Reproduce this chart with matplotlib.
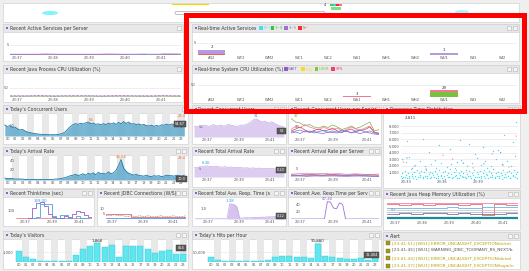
import numpy as np
import matplotlib
matplotlib.use("Agg")
import matplotlib.pyplot as plt
from matplotlib.patches import Rectangle, FancyBboxPatch, Ellipse

W, H = 529, 271
plt.rcParams['font.family'] = ['DejaVu Sans']

# ----------------------------- data -----------------------------
hour_labels = ["00", "01", "02", "03", "04", "05", "06", "07", "08", "09", "10", "11",
               "12", "13", "14", "15", "16", "17", "18", "19", "20", "21", "22", "23"]
server_names = ["A42", "WT2", "WM2", "WC1", "WC2", "WS1", "WH1", "WH2", "WU1", "WI1", "WI2"]
ticks5 = ["23:37", "23:38", "23:39", "23:40", "23:41"]
ticks3 = ["23:37", "23:39", "23:41"]
scatter_ticks = ["23:33", "23:36", "23:39"]

# real-time active services (stacked by elapsed bucket)
active_0_1 = [0, 0, 0, 0, 0, 0, 0, 0, 0, 0, 0]
active_1_3 = [0, 0, 0, 0, 0, 0, 0, 0, 0, 0, 0]
active_3_5 = [1.4, 0, 0, 0, 0, 0, 0, 0, 1, 0, 0]
active_5 = [0.6, 0, 0, 0, 0, 0, 0, 0, 0, 0, 0]
active_total = [2, 0, 0, 0, 0, 0, 0, 0, 1, 0, 0]

# real-time system cpu (stacked)
cpu_wait = [0, 0, 0, 0, 0, 0, 0, 0, 0, 0, 0]
cpu_irq = [0, 0, 0, 0, 0, 0, 0, 0, 0, 0, 0]
cpu_user = [0, 0, 0, 0, 0, 0, 0, 0, 22, 0, 0]
cpu_sys = [0, 0, 0, 0, 0, 3, 0, 0, 7, 0, 0]
cpu_total = [0, 0, 0, 0, 0, 3, 0, 0, 29, 0, 0]

# recent active services per server
act_srv_magenta = [0.3, 0.3, 0.3, 0.3, 0.4, 0.3, 0.3, 0.3, 0.3, 0.3, 0.3, 0.4, 0.3, 0.3, 0.3, 0.3, 0.3, 0.3, 0.3, 0.3]
act_srv_blue = [0, 0, 0, 0, 0, 0, 0, 0, 0, 0, 0, 0, 0, 0, 0.3, 0.4, 0, 0, 0, 0]
act_srv_gray = [0, 0, 0, 0, 0, 0, 0, 0, 0, 0, 0, 0, 0, 0, 0, 0, 0, 0.5, 0.5, 0.4]

# recent java process cpu
jcpu_pink = [6, 7, 6, 8, 7, 6, 7, 8, 6, 7, 6, 7, 8, 7, 6, 7, 6, 8, 7, 6]
jcpu_cyan = [4, 5, 4, 4, 5, 4, 5, 4, 4, 5, 4, 4, 5, 4, 5, 4, 4, 5, 4, 4]
jcpu_yellow = [3, 3, 4, 3, 3, 4, 3, 3, 4, 3, 3, 3, 4, 3, 3, 4, 3, 3, 3, 4]
jcpu_purple = [5, 4, 5, 6, 5, 4, 5, 5, 6, 5, 4, 5, 5, 6, 5, 4, 5, 6, 5, 5]

# today's concurrent users (every 20 min)
concurrent_users = [55, 48, 52, 42, 45, 36, 30, 33, 25, 20, 17, 14, 12, 10, 9, 8, 7, 7,
                    6, 7, 6, 8, 10, 14, 22, 35, 48, 57, 62, 58, 64, 60, 66, 70, 62, 65,
                    58, 61, 56, 62, 57, 64, 60, 66, 58, 68, 61, 72, 63, 70, 60, 62, 57, 60,
                    55, 58, 52, 50, 54, 48, 53, 49, 56, 54, 59, 55, 60, 57, 62, 58, 42, 60]

# today's arrival rate (every 20 min)
arrival_rate = [4, 3, 3, 3, 2, 2, 2, 2, 1, 1, 1, 1, 1, 1, 1, 1, 1, 1, 1, 1, 2, 2, 3, 4,
                5, 7, 9, 10, 12, 9, 11, 13, 10, 14, 12, 15, 11, 16, 13, 14, 12, 17, 13, 15, 20,
                30, 42.56, 25, 18, 14, 12, 10, 12, 9, 9, 8, 10, 8, 7, 9, 8, 9, 7, 8, 10, 9,
                9, 8, 10, 9, 8, 10]

# recent concurrent users (purple area)
recent_users = [52, 55, 50, 58, 54, 60, 56, 53, 57, 62, 58, 55, 60, 57, 54, 58, 63, 60, 57, 55,
                52, 56, 60, 58, 62, 66, 72, 80, 88, 91, 85, 78, 75, 80, 74, 70, 76, 72, 66, 60,
                56, 54, 52]

# recent concurrent users per server
srv_green = [37, 30, 28, 22, 25, 20, 18, 22, 19, 24, 20, 15, 18, 22, 17, 20, 25, 30, 12, 15]
srv_pink = [15, 22, 18, 25, 20, 17, 14, 20, 16, 14, 18, 12, 15, 20, 16, 14, 18, 22, 10, 8]
srv_blue = [10, 12, 14, 10, 12, 8, 11, 13, 9, 12, 10, 14, 11, 9, 12, 14, 10, 12, 8, 6]
srv_purple = [8, 10, 7, 12, 9, 11, 8, 7, 10, 9, 8, 10, 12, 8, 9, 7, 10, 8, 6, 5]
srv_red = [12, 16, 20, 14, 10, 13, 16, 12, 14, 18, 12, 9, 13, 16, 11, 13, 15, 20, 9, 7]

# response-time scatter (minutes since 23:32:30, ms)
sc_low_x = [0.1, 0.2, 0.3, 0.4, 0.5, 0.6, 0.7, 0.8, 0.9, 1.0, 1.1, 1.2, 1.3, 1.4, 1.5, 1.6, 1.7, 1.8, 1.9, 2.0,
            2.1, 2.2, 2.3, 2.4, 2.5, 2.6, 2.7, 2.8, 2.9, 3.0, 3.1, 3.2, 3.3, 3.4, 3.5, 3.6, 3.7, 3.8, 3.9, 4.0,
            4.1, 4.2, 4.3, 4.4, 4.5, 4.6, 4.7, 4.8, 4.9, 5.0, 5.1, 5.2, 5.3, 5.4, 5.5, 5.6, 5.7, 5.8, 5.9, 6.0,
            6.1, 6.2, 6.3, 6.4, 6.5, 6.6, 6.7, 6.8, 6.9, 7.0, 7.1, 7.2, 7.3, 7.4, 7.5, 7.6, 7.7, 7.8, 7.9, 8.0,
            8.1, 8.2, 8.3, 8.4, 8.5, 8.6, 8.7, 8.8, 8.9, 9.0, 9.1, 9.2, 9.3, 9.4, 9.5, 9.6, 9.7, 9.8,
            0.15, 0.45, 0.75, 1.05, 1.35, 1.65, 1.95, 2.25, 2.55, 2.85, 3.15, 3.45, 3.75, 4.05, 4.35, 4.65,
            4.95, 5.25, 5.55, 5.85, 6.15, 6.45, 6.75, 7.05, 7.35, 7.65, 7.95, 8.25, 8.55, 8.85, 9.15, 9.45, 9.75]
sc_low_y = [420, 880, 260, 1250, 610, 150, 940, 380, 1480, 720, 210, 1050, 530, 1320, 300, 860, 640, 1180, 240, 990,
            470, 1400, 180, 760, 1100, 350, 920, 560, 1270, 200, 810, 450, 1350, 670, 130, 1020, 390, 1200, 580, 900,
            280, 1450, 700, 330, 1080, 520, 1300, 170, 840, 620, 1150, 400, 960, 250, 1380, 740, 480, 1230, 190, 870,
            590, 1420, 320, 1010, 690, 230, 1160, 440, 900, 1330, 160, 780, 550, 1260, 360, 980, 630, 1470, 270, 850,
            500, 1120, 210, 930, 680, 1360, 340, 790, 1060, 460, 1240, 180, 950, 600, 1410, 300, 820, 1090,
            90, 310, 120, 480, 60, 270, 140, 520, 80, 330, 110, 460, 70, 290, 150, 540,
            95, 360, 130, 410, 75, 300, 160, 500, 85, 240, 120, 430, 65, 350, 140, 470, 100]
sc_mid_x = [0.2, 0.5, 0.8, 1.3, 1.7, 2.1, 2.6, 3.0, 3.4, 3.9, 4.3, 4.8, 5.1, 5.6, 6.0, 6.4, 6.8, 7.1,
            7.6, 8.0, 8.5, 8.9, 9.3, 9.6, 1.0, 4.6, 7.3, 2.9]
sc_mid_y = [3100, 2600, 3300, 2100, 2700, 1900, 2300, 1700, 2500, 1800, 2200, 2600, 2900, 2000, 2400, 3200,
            2100, 2800, 1900, 3000, 2300, 2700, 2000, 3500, 1600, 1700, 1650, 2900]
sc_high_x = [0.6, 1.9, 3.3, 4.2, 5.0, 5.8, 6.9, 7.8, 8.7, 9.4, 9.7, 2.4, 6.3, 8.2]
sc_high_y = [5800, 6100, 5100, 4600, 5900, 5300, 4800, 4200, 6600, 5600, 8600, 4100, 3800, 4400]
sc_other_x = [0.3, 0.6, 1.2, 3.6, 5.3, 6.1, 7.0, 7.7, 8.4, 8.6, 9.1, 9.7, 2.2, 4.4]
sc_other_y = [2600, 3200, 1900, 3600, 2400, 1700, 2300, 3800, 4000, 2100, 1800, 6500, 1500, 3000]
sc_other_c = ["#f4a27a", "#6fa0e0", "#f4a27a", "#f090c0", "#6fa0e0", "#f4a27a", "#6fa0e0",
              "#f090c0", "#6fa0e0", "#a0a0d0", "#f4a27a", "#f4a27a", "#6fa0e0", "#f090c0"]

# recent total arrival rate
total_arrival = [5.2, 5.5, 5.8, 6.0, 6.36, 6.1, 5.9, 6.2, 5.8, 5.6, 5.9, 5.5, 5.7, 5.3, 5.6, 5.4, 5.1, 5.3,
                 5.0, 5.2, 4.9, 5.1, 4.8, 5.0, 4.7, 4.9, 4.6, 4.8, 5.0, 5.2]
# recent arrival rate per server
arr_pink = [1.6, 1.9, 2.2, 1.8, 2.0, 1.7, 1.9, 1.5, 1.8, 1.6, 1.4, 1.7]
arr_red = [1.2, 1.0, 1.4, 1.3, 1.1, 1.5, 1.2, 1.0, 1.3, 1.1, 1.2, 1.0]
arr_blue = [0.8, 0.9, 0.7, 1.0, 0.8, 0.6, 0.9, 0.8, 0.7, 0.9, 0.6, 0.5]
arr_purple = [0.5, 0.6, 0.4, 0.6, 0.5, 0.7, 0.5, 0.4, 0.6, 0.5, 0.4, 0.3]

# recent thinktime
think_purple = [5, 5, 5, 10, 120, 180, 190, 150, 60, 20, 10, 15, 30, 20, 60, 90, 80, 40, 20, 60]
think_blue = [3, 3, 4, 5, 10, 20, 169, 169, 169, 30, 10, 40, 40, 10, 5, 30, 10, 8, 5, 5]
think_pink = [8, 8, 10, 9, 8, 10, 12, 10, 9, 8, 10, 9, 8, 10, 9, 8, 10, 9, 8, 8]

# recent jdbc connections
jdbc_pink = [5, 5, 5, 5, 5, 5, 2, 2, 2, 2, 2, 2, 2, 2, 2, 2, 2, 2, 2, 2]
jdbc_green = [3, 3, 4, 3, 3, 2, 3, 2, 3, 2, 3, 2, 2, 3, 2, 2, 3, 2, 2, 3]
jdbc_blue = [1, 1, 1, 1, 1, 1, 1, 1, 1, 1, 1, 1, 1, 1, 1, 1, 1, 1, 1, 1]

# recent total avg response time
total_resp = [0.02, 0.02, 0.02, 0.02, 0.02, 0.02, 0.02, 0.02, 0.02, 0.02, 0.02, 0.02, 0.02, 0.02,
              1.38, 1.35, 1.30, 1.10, 0.10, 0.08, 0.10, 0.12, 0.10, 0.12, 0.14, 0.13, 0.15, 0.17,
              0.16, 0.18, 0.20, 0.19, 0.21, 0.22, 0.20, 0.23, 0.22]
# recent avg response time per server
resp_purple = [0, 0, 0, 0, 0, 0, 0, 0, 0, 0, 0, 0, 47.4, 46, 30, 28, 44, 40, 0, 0, 0, 0, 0, 0, 0, 0, 0, 0, 0, 0]
resp_blue = [1, 1, 1, 1, 1, 1, 1, 1, 1, 1, 1, 1, 1, 1, 1, 1, 1, 1, 1, 1, 1, 1, 1, 1, 1, 1, 1, 1, 1, 1]
resp_green = [0.5, 0.5, 0.5, 0.5, 0.5, 0.5, 0.5, 0.5, 0.5, 0.5, 0.5, 0.5, 0.5, 0.5, 0.5, 0.5, 0.5, 0.5, 0.5, 0.5,
              0.5, 0.5, 0.5, 0.5, 0.5, 0.5, 0.5, 0.5, 0.5, 0.5]

# heap memory utilization
heap_pink = [80, 81, 80, 82, 81, 80, 82, 81, 80, 81, 82, 81]
heap_red = [74, 73, 74, 73, 75, 74, 73, 74, 25, 74, 73, 74]
heap_cyan = [55, 56, 58, 57, 59, 60, 58, 57, 60, 61, 60, 62]
heap_gray = [47, 48, 47, 49, 48, 47, 48, 49, 48, 47, 48, 47]
heap_lav = [38, 37, 39, 40, 38, 37, 36, 38, 37, 39, 38, 37]
heap_dark = [30, 31, 30, 32, 31, 30, 31, 30, 29, 30, 31, 30]
heap_teal = [8, 8, 8, 8, 8, 8, 8, 8, 8, 8, 8, 8]

# today's visitors / hits per hour
visitors = [1100, 500, 300, 100, 80, 80, 90, 150, 700, 1300, 1600, 1868, 1500, 1700, 500, 1600,
            1600, 1600, 1300, 900, 1100, 1200, 850, 814]
hits = [25000, 10000, 5000, 4000, 4000, 4000, 4000, 5000, 8000, 25000, 30000, 30000, 25000, 25000,
        20000, 90880, 30000, 25000, 20000, 15000, 15000, 20000, 11404, 25000]

alerts = ["[23:41:51] [WG1] ERROR_UNCAUGHT_EXCEPTION/ticket",
          "[23:41:45] [WU1] WARNING_JDBC_TOOMANY_RS_NEXT/b",
          "[23:41:44] [WU1] ERROR_UNCAUGHT_EXCEPTION/detail",
          "[23:41:37] [WU1] ERROR_UNCAUGHT_EXCEPTION/login/n"]
alert_colors = ["#b5a100", "#555555", "#b5a100", "#b5a100"]

# ----------------------------- figure -----------------------------
fig = plt.figure(figsize=(W / 100, H / 100), dpi=100)
fig.patch.set_facecolor('#efefef')
bg = fig.add_axes([0, 0, 1, 1])
bg.set_xlim(0, W); bg.set_ylim(H, 0); bg.axis('off')

TFS = 3.3
LFS = 2.7


def panel(x0, y0, x1, y1, title=None, icons=2):
    bg.add_patch(Rectangle((x0, y0), x1 - x0, y1 - y0, fc='white', ec='#d2d2d2', lw=0.5))
    if title is not None:
        bg.add_patch(Rectangle((x0, y0), x1 - x0, 8, fc='#e8e8e8', ec='#d2d2d2', lw=0.5))
        bg.add_patch(Rectangle((x0 + 3, y0 + 3.2), 1.8, 1.8, fc='#8a62c9', ec='none'))
        bg.text(x0 + 6.5, y0 + 4.4, title, fontsize=TFS, va='center', ha='left', color='#3a3a3a')
        for k in range(icons):
            bg.add_patch(Rectangle((x1 - 6.5 - 6 * k, y0 + 1.8), 4.5, 4.5, fc='#f6f6f6', ec='#b5b5b5', lw=0.4))


def inner(x0, y0, x1, y1):
    ax = fig.add_axes([x0 / W, 1 - y1 / H, (x1 - x0) / W, (y1 - y0) / H])
    ax.set_facecolor('none')
    for s in ax.spines.values():
        s.set_visible(False)
    ax.tick_params(length=0, labelsize=LFS, colors='#555555', pad=1)
    return ax


def hour_axis(ax, bands=True):
    ax.set_xlim(-0.5, 23.5)
    ax.set_xticks(range(24))
    ax.set_xticklabels(hour_labels)
    ax.tick_params(axis='x', labelsize=2.5, pad=1)
    if bands:
        for h in range(1, 24, 2):
            ax.axvspan(h - 0.5, h + 0.5, color='#e8e8e8', lw=0, zorder=0)


def grid(ax):
    ax.grid(axis='y', color='#e3e3e3', lw=0.4)
    ax.set_axisbelow(True)


# top strip
panel(3, 3, 519, 22, None)
bg.add_patch(Ellipse((50, 13), 16, 4, fc='#60f0ff', ec='none', alpha=0.8))
bg.add_patch(Ellipse((462, 12), 14, 4, fc='#80f0ff', ec='none', alpha=0.7))
bg.plot([172, 208], [4.3, 4.3], color='#f0dc00', lw=0.8)
bg.add_patch(FancyBboxPatch((175, 11.5), 150, 3, boxstyle='round,pad=0,rounding_size=1.5',
                            fc='white', ec='#a8a8a8', lw=0.5))
bg.text(325, 5.5, '4', fontsize=2.6, color='#333', ha='center', va='center')
for i, c in enumerate(['#40d040', '#40d0e0', '#f03030', '#f070a0']):
    bg.add_patch(Rectangle((330 + 3 * i, 3.5), 2.5, 2, fc=c, ec='none'))
bg.add_patch(Rectangle((331, 6.5), 10, 3, fc='#80e080', ec='none'))

# ---- row 1 left: active services per server
panel(3, 24, 183, 61, "Recent Active Services per Server", icons=1)
ax = inner(10, 33, 181, 55)
tx = np.linspace(-0.19, 4.56, 20)
ax.plot(tx, act_srv_magenta, color='#d040c0', lw=0.8)
ax.plot(tx, act_srv_blue, color='#60b0f0', lw=0.6)
ax.plot(tx, act_srv_gray, color='#a0a0a0', lw=0.6)
ax.set_xlim(-0.19, 4.56); ax.set_ylim(0, 11)
ax.set_xticks(range(5)); ax.set_xticklabels(ticks5)
ax.set_yticks([5]); grid(ax)

# ---- row 2 left: java cpu
panel(3, 65, 183, 102, "Recent Java Process CPU Utilization (%)", icons=1)
ax = inner(10, 74, 181, 97)
ax.plot(tx, jcpu_pink, color='#f080b0', lw=0.7, ls=(0, (2, 2)))
ax.plot(tx, jcpu_cyan, color='#40c8e0', lw=0.7, ls=(1, (2, 2)))
ax.plot(tx, jcpu_yellow, color='#e0d040', lw=0.7, ls=(2, (2, 2)))
ax.plot(tx, jcpu_purple, color='#a070d0', lw=0.7, ls=(3, (2, 2)))
ax.set_xlim(-0.19, 4.56); ax.set_ylim(0, 122)
ax.set_xticks(range(5)); ax.set_xticklabels(ticks5)
ax.set_yticks([50]); grid(ax)

# ---- row 1 right: real-time active services
panel(192, 24, 519, 61, "Real-time Active Services")
leg1 = [(259, '#40e0f0', '0~1'), (270.5, '#40c040', '1~3'), (284, '#a070d0', '3~5'), (298, '#f03030', '5~')]
for x, c, t in leg1:
    bg.add_patch(Rectangle((x, 26), 3.6, 3.6, fc=c, ec='none'))
    bg.text(x + 4.3, 28.1, t, fontsize=2.8, color=c, va='center')
ax = inner(197, 31, 517, 55)
xs = np.arange(len(server_names))
b = np.zeros(len(server_names))
for vals, c in [(active_5, '#f06060'), (active_3_5, '#b39ae0'), (active_1_3, '#60c860'), (active_0_1, '#60e0f0')]:
    ax.bar(xs, vals, bottom=b, width=0.95, color=c, lw=0)
    b = b + np.array(vals)
for i, v in enumerate(active_total):
    if v:
        ax.text(i, v + 0.3, str(v), fontsize=2.8, ha='center', va='bottom', color='#333')
ax.set_xlim(-0.5, 10.5); ax.set_ylim(0, 10)
ax.set_xticks(xs); ax.set_xticklabels(server_names)
ax.set_yticks([5]); grid(ax)

# ---- row 2 right: real-time system cpu
panel(192, 65, 519, 103, "Real-time System CPU Utilization (%)")
leg2 = [(284, '#8a60c8', 'WAIT'), (301, '#f0e020', 'IRQ'), (314.5, '#80c830', 'USER'), (331, '#f04070', 'SYS')]
for x, c, t in leg2:
    bg.add_patch(Rectangle((x, 67), 3.6, 3.6, fc=c, ec='none'))
    bg.text(x + 4.3, 69.1, t, fontsize=2.8, color=c, va='center')
ax = inner(197, 73, 517, 97)
b = np.zeros(len(server_names))
for vals, c in [(cpu_user, '#78c040'), (cpu_sys, '#f07890'), (cpu_irq, '#f0e020'), (cpu_wait, '#8a60c8')]:
    ax.bar(xs, vals, bottom=b, width=0.95, color=c, lw=0)
    b = b + np.array(vals)
for i, v in enumerate(cpu_total):
    if v:
        ax.text(i, v + 2, str(v), fontsize=2.8, ha='center', va='bottom', color='#333')
ax.set_xlim(-0.5, 10.5); ax.set_ylim(0, 100)
ax.set_xticks(xs); ax.set_xticklabels(server_names)
ax.set_yticks([50]); grid(ax)

# ---- row 3: today's concurrent users
panel(3, 105, 188, 144, "Today's Concurrent Users", icons=1)
ax = inner(4, 113, 185, 136)
hour_axis(ax)
hx = np.linspace(-0.4, 23.4, len(concurrent_users))
ax.fill_between(hx, concurrent_users, color='#6aaecf', lw=0, alpha=0.9)
ax.plot(hx, concurrent_users, color='#1f78a8', lw=0.6)
ax.set_ylim(0, 115); ax.set_yticks([])
ax.text(0.3, 50, '50', fontsize=LFS, color='#555', va='center')
ax.text(11, 72, '66', fontsize=2.8, color='#f07030', ha='center', va='bottom')

# recent concurrent users (purple)
panel(192, 105, 286, 144, "Recent Concurrent Users")
ax = inner(194, 113, 284, 137)
rx = np.linspace(-0.83, 4.88, len(recent_users))
ax.fill_between(rx, recent_users, color='#dccdf0', lw=0)
ax.plot(rx, recent_users, color='#c6aee8', lw=0.5)
ax.set_xlim(-0.83, 4.88); ax.set_ylim(0, 120)
ax.set_xticks([0, 2, 4]); ax.set_xticklabels(ticks3)
ax.set_yticks([50]); ax.tick_params(axis='y', pad=-7)
ax.text(rx[29], 93, '91', fontsize=2.8, color='#30a0d0', ha='center', va='bottom')

# recent concurrent users per server
panel(288, 105, 381, 144, "Recent Concurrent Users per Server")
ax = inner(291, 113, 379, 137)
sx = np.linspace(-0.54, 4.71, len(srv_green))
for s, c in [(srv_green, '#80b040'), (srv_pink, '#f070b0'), (srv_red, '#e04040'),
             (srv_blue, '#4090e0'), (srv_purple, '#9060d0')]:
    ax.plot(sx, s, color=c, lw=0.5)
ax.set_xlim(-0.54, 4.71); ax.set_ylim(0, 48)
ax.set_xticks([0, 2, 4]); ax.set_xticklabels(ticks3)
ax.set_yticks([20]); ax.tick_params(axis='y', pad=-6)
ax.text(sx[0] + 0.15, 38, '37', fontsize=2.8, color='#70a030', va='bottom')

# scatter
panel(383, 105, 520, 188, "Response Time Distribution")
ax = inner(401, 113, 518, 179)
ax.scatter(sc_low_x, sc_low_y, s=1.0, color='#40e0f0', lw=0)
ax.scatter(sc_mid_x, sc_mid_y, s=1.0, color='#50d8f0', lw=0)
ax.scatter(sc_high_x, sc_high_y, s=1.0, color='#50d0f0', lw=0)
ax.scatter(sc_other_x, sc_other_y, s=1.0, c=sc_other_c, lw=0)
ax.set_xlim(0.1, 9.85); ax.set_ylim(0, 10000)
ax.set_xticks([0.5, 3.5, 6.5]); ax.set_xticklabels(scatter_ticks)
ax.set_yticks([1000, 2000, 3000, 4000, 5000, 6000, 7000, 8000])
ax.set_yticklabels(['1,000', '2,000', '3,000', '4,000', '5,000', '6,000', '7,000', '8,000'])
grid(ax)
ax.text(0.4, 9300, '2,811', fontsize=2.8, color='#333', va='center')

# ---- row 4: today's arrival rate
panel(3, 147, 188, 188, "Today's Arrival Rate")
ax = inner(4, 155, 185, 180)
hour_axis(ax)
ax.fill_between(hx, arrival_rate, color='#6aaecf', lw=0, alpha=0.9)
ax.plot(hx, arrival_rate, color='#1f78a8', lw=0.6)
ax.set_ylim(0, 52); ax.set_yticks([])
ax.text(0.3, 40, '40', fontsize=LFS, color='#555', va='center')
ax.text(0.3, 20, '20', fontsize=LFS, color='#555', va='center')
ax.text(hx[46], 43.5, '42.56', fontsize=2.8, color='#f07030', ha='center', va='bottom')

panel(192, 147, 286, 187, "Recent Total Arrival Rate")
ax = inner(194, 156, 284, 177)
ax2x = np.linspace(-0.83, 4.88, len(total_arrival))
ax.fill_between(ax2x, total_arrival, color='#dccdf0', lw=0)
ax.plot(ax2x, total_arrival, color='#c6aee8', lw=0.5)
ax.set_xlim(-0.83, 4.88); ax.set_ylim(0, 12)
ax.set_xticks([0, 2, 4]); ax.set_xticklabels(ticks3)
ax.set_yticks([5]); ax.tick_params(axis='y', pad=-5)
ax.text(ax2x[4], 6.8, '6.36', fontsize=2.8, color='#30a0d0', ha='center', va='bottom')

panel(288, 147, 381, 187, "Recent Arrival Rate per Server")
ax = inner(291, 156, 379, 177)
px_ = np.linspace(-0.54, 4.71, len(arr_pink))
for s, c in [(arr_pink, '#f070b0'), (arr_red, '#e04040'), (arr_blue, '#4090e0'), (arr_purple, '#9060d0')]:
    ax.plot(px_, s, color=c, lw=0.5)
ax.set_xlim(-0.54, 4.71); ax.set_ylim(0, 12)
ax.set_xticks([0, 2, 4]); ax.set_xticklabels(ticks3)
ax.set_yticks([5]); ax.tick_params(axis='y', pad=-5)

# ---- row 5
panel(3, 189, 94, 226, "Recent Thinktime (sec)")
ax = inner(16, 197, 92, 219)
thx = np.linspace(-0.67, 4.93, len(think_purple))
ax.plot(thx, think_pink, color='#f06080', lw=0.5, drawstyle='steps-post')
ax.plot(thx, think_purple, color='#9060d0', lw=0.6, drawstyle='steps-post')
ax.plot(thx, think_blue, color='#40a8e0', lw=0.6, drawstyle='steps-post')
ax.set_xlim(-0.67, 4.93); ax.set_ylim(0, 245)
ax.set_xticks([0, 2, 4]); ax.set_xticklabels(ticks3)
ax.set_yticks([100])
ax.text(thx[6], 175, '169.00', fontsize=2.8, color='#30a0d0', ha='center', va='bottom')

panel(97, 189, 188, 226, "Recent JDBC Connections (W/S)")
ax = inner(106, 197, 186, 219)
jx = np.linspace(-0.43, 4.86, len(jdbc_pink))
ax.plot(jx, jdbc_pink, color='#f06090', lw=0.6, drawstyle='steps-post')
ax.plot(jx, jdbc_green, color='#60a040', lw=0.5, ls=(0, (1.5, 1)))
ax.plot(jx, jdbc_blue, color='#4070e0', lw=0.5)
ax.set_xlim(-0.43, 4.86); ax.set_ylim(0, 20)
ax.set_xticks([0, 2, 4]); ax.set_xticklabels(ticks3)
ax.set_yticks([5, 10])

panel(192, 189, 286, 226, "Recent Total Ave. Resp. Time (s")
ax = inner(195, 197, 284, 219)
trx = np.linspace(-0.83, 4.88, len(total_resp))
ax.fill_between(trx, total_resp, color='#d6c4ee', lw=0)
ax.plot(trx, total_resp, color='#c0a4e6', lw=0.5)
ax.set_xlim(-0.83, 4.88); ax.set_ylim(0, 2)
ax.set_xticks([0, 2, 4]); ax.set_xticklabels(ticks3)
ax.set_yticks([1.0]); ax.set_yticklabels(['1.0']); ax.tick_params(axis='y', pad=-8)
ax.text(trx[14], 1.45, '1.38', fontsize=2.8, color='#30a0d0', ha='center', va='bottom')

panel(288, 189, 381, 226, "Recent Ave. Resp.Time per Serv")
ax = inner(291, 197, 379, 219)
rsx = np.linspace(-0.54, 4.71, len(resp_purple))
ax.plot(rsx, resp_green, color='#60b040', lw=0.5)
ax.plot(rsx, resp_blue, color='#4090e0', lw=0.5)
ax.plot(rsx, resp_purple, color='#a070d8', lw=0.6)
ax.set_xlim(-0.54, 4.71); ax.set_ylim(0, 60)
ax.set_xticks([0, 2, 4]); ax.set_xticklabels(ticks3)
ax.set_yticks([20, 40]); ax.tick_params(axis='y', pad=-7)
ax.text(rsx[12], 49, '47.40', fontsize=2.8, color='#9060d0', ha='center', va='bottom')

panel(383, 190, 520, 230, "Recent Java Heap Memory Utilization (%)")
ax = inner(387, 199, 518, 220)
hpx = np.linspace(-0.3, 4.55, len(heap_pink))
for s, c, lw in [(heap_pink, '#f080b0', 0.6), (heap_red, '#e05050', 0.5), (heap_cyan, '#60b8e8', 0.6),
                 (heap_gray, '#c0c0c0', 0.5), (heap_lav, '#b8a0e0', 0.5), (heap_dark, '#606060', 0.5),
                 (heap_teal, '#1a8a9a', 1.6)]:
    ax.plot(hpx, s, color=c, lw=lw, drawstyle='steps-post')
ax.set_xlim(-0.3, 4.55); ax.set_ylim(0, 100)
ax.set_xticks(range(5)); ax.set_xticklabels(ticks5)
ax.set_yticks([50]); ax.tick_params(axis='y', pad=-6)

# ---- row 6
panel(3, 231, 188, 269, "Today's Visitors")
ax = inner(15, 238, 187, 262)
hour_axis(ax)
ax.bar(range(24), visitors, width=0.85, color='#60e6ee', edgecolor='#30c8d8', lw=0.3)
ax.set_ylim(0, 2400)
ax.set_yticks([1000]); ax.set_yticklabels(['1,000'])
grid(ax)
ax.text(11, 1950, '1,868', fontsize=2.8, color='#333', ha='center', va='bottom')

panel(192, 231, 381, 269, "Today's Hits per Hour")
ax = inner(207, 238, 379, 262)
hour_axis(ax)
ax.bar(range(24), hits, width=0.85, color='#60e6ee', edgecolor='#30c8d8', lw=0.3)
ax.set_ylim(0, 120000)
ax.set_yticks([50000]); ax.set_yticklabels(['50,000'])
grid(ax)
ax.text(15, 95000, '90,880', fontsize=2.8, color='#333', ha='center', va='bottom')

panel(383, 232, 520, 269, "Alert")
for i, (t, c) in enumerate(zip(alerts, alert_colors)):
    y = 243 + i * 7.5
    bg.add_patch(Rectangle((386, y - 2), 4, 4, fc='#a09820', ec='#807810', lw=0.3))
    bg.text(391.5, y, t, fontsize=3.1, color=c, va='center', ha='left')

# ---- overlay: tooltips and highlight box
ov = fig.add_axes([0, 0, 1, 1])
ov.set_xlim(0, W); ov.set_ylim(H, 0); ov.axis('off'); ov.set_facecolor('none')


def tip(x, y, w, txt):
    ov.add_patch(Rectangle((x, y), w, 6, fc='#5a5a5a', ec='#333', lw=0.3))
    ov.text(x + w / 2, y + 3.2, txt, fontsize=2.5, color='white', ha='center', va='center')


tip(174, 121, 12, '54.67')
tip(277, 128, 9, '52')
tip(276, 167, 10, '5.20')
tip(176, 176, 11, '10.0')
tip(276, 213, 10, '0.22')
tip(176, 245, 10, '814')
tip(364, 252, 15, '11,404')
ov.text(186, 116, '23:4', fontsize=2.6, color='#f07030', ha='right', va='center')
ov.text(186, 158, '23:4', fontsize=2.6, color='#f07030', ha='right', va='center')
ov.add_patch(Rectangle((185.5, 14.5), 338, 96, fill=False, ec='#ff0000', lw=3.6))

fig.savefig('out.png', dpi=100, facecolor=fig.get_facecolor())
